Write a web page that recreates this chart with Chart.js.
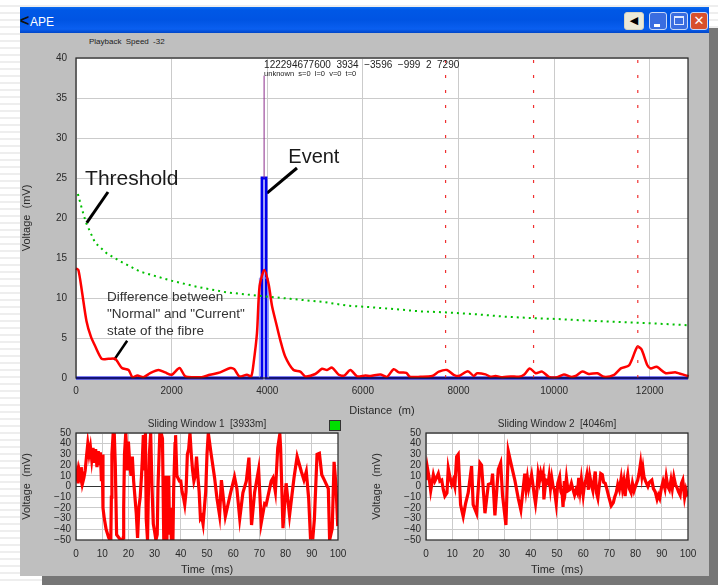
<!DOCTYPE html>
<html>
<head>
<meta charset="utf-8">
<title>APE</title>
<script src="https://cdn.jsdelivr.net/npm/chart.js@4"></script>
<style>
  html, body { margin: 0; padding: 0; }
  body {
    width: 718px; height: 585px; overflow: hidden; position: relative;
    background: repeating-linear-gradient(#fff 0 5px, #eeeeee 5px 7px);
    font-family: "Liberation Sans", sans-serif;
  }
  .abs { position: absolute; }
  canvas { position: absolute; }
  #shadow1 { left: 709px; top: 28px; width: 9px; height: 557px; background: #767676; }
  #shadow2 { left: 42px; top: 576px; width: 676px; height: 9px; background: #767676; }
  #win { left: 20px; top: 7px; width: 689px; height: 569px; background: #bfbfbf; }
  #bar {
    left: 20px; top: 7px; width: 689px; height: 26px;
    background: linear-gradient(#0a6af0 0, #0058e6 12%, #0054e3 50%, #0a5ff0 85%, #0046c8 100%);
  }
  #chev { left: 20px; top: 12px; font: bold 16px "Liberation Sans"; color: #111; }
  #ape { left: 30px; top: 15px; font: 12px "Liberation Sans"; color: #fff; }
  .btn { top: 12px; height: 18px; box-sizing: border-box; border-radius: 3px; border: 1px solid #c8d8f8; text-align: center; }
  #back { left: 624px; width: 20px; background: #ece9d8; border-color: #d8d4c0; color: #000; font: 11px/16px "DejaVu Sans"; }
  #min { left: 649px; width: 18px; background: #3a6de0; }
  #min i { position: absolute; left: 4px; bottom: 2px; width: 6px; height: 3px; background: #fff; }
  #max { left: 670px; width: 18px; background: #3a6de0; }
  #max i { position: absolute; left: 3px; top: 3px; width: 10px; height: 9px; border: 1px solid #dfe8ff; border-top-width: 2px; box-sizing: border-box; }
  #close { left: 690px; width: 18px; background: #d8502c; color: #fff; font: bold 13px/16px "DejaVu Sans"; }
  #speed { left: 89px; top: 37px; font: 8px "Liberation Sans"; color: #222; word-spacing: 2px; white-space: pre; }
  #led { left: 329px; top: 420px; width: 10px; height: 9px; background: #00e000; border: 1px solid #333; }
</style>
</head>
<body>
<div class="abs" id="shadow1"></div>
<div class="abs" id="shadow2"></div>
<div class="abs" id="win"></div>
<div class="abs" id="bar"></div>
<div class="abs" id="chev">&lt;</div>
<div class="abs" id="ape">APE</div>
<div class="abs btn" id="back">&#9664;</div>
<div class="abs btn" id="min"><i></i></div>
<div class="abs btn" id="max"><i></i></div>
<div class="abs btn" id="close">&#10005;</div>
<div class="abs" id="speed">Playback Speed -32</div>

<canvas id="main" width="689" height="385" style="left:20px;top:33px"></canvas>
<canvas id="win1" width="330" height="165" style="left:20px;top:412px"></canvas>
<canvas id="win2" width="330" height="165" style="left:370px;top:412px"></canvas>
<div class="abs" id="led"></div>

<script>
// trace of the fibre
const diffDist = [0,50,120,220,310,400,540,680,820,960,1100,1180,1285,1410,1550,1725,1865,2000,2165,2285,2490,2630,2800,3015,3225,3310,3415,3575,3665,3715,3785,3840,3940,4030,4100,4200,4270,4375,4550,4690,4795,5005,5145,5250,5355,5495,5610,5740,5880,6050,6157,6366,6505,6645,6750,6910,6980,7200,7450,7590,7760,7900,8005,8195,8320,8390,8565,8670,8775,8915,9090,9265,9370,9490,9615,9750,9890,10065,10205,10345,10450,10590,10730,10905,11045,11255,11395,11570,11740,11825,11950,12020,12145,12335,12545,12790,12800];
const diffVolt = [13.7,13.5,11,7.1,5.2,4,2.4,2.4,2.4,1.25,1,0.1,0.3,0.1,0.6,1,0.7,0.4,1.25,0.2,0.1,0.1,0.4,0.7,1.25,1.1,0.2,0.4,0.2,1.9,5.6,11.5,13.5,11.7,9,6.5,4.8,2.7,1,0.8,0.2,0.5,1.15,1,1.3,0.4,0.3,1,0.2,0.3,0.25,0.45,0.15,1.1,0.7,0.65,0.15,0.15,0.25,0.8,1,0.4,0.25,0.85,0.25,0.6,0.45,0.15,0.25,0.1,0.2,0.15,0.4,1.2,0.6,0.8,0.15,0.1,0.45,0.15,0.25,0.8,0.5,0.6,0.15,0.4,1.2,1.6,3.9,3.6,1.6,1.2,1.4,0.6,0.7,0.25,0.4];

const thresholdDist = [40,130,210,400,640,920,1340,1970,2530,3155,3785,4480,5180,5670,6160,6680,7200,7750,8390,8950,9510,10065,10625,11180,11740,12160,12790];
const thresholdVolt = [23,21,19.4,16.9,15.6,14.6,13.3,12.2,11.4,10.7,10.3,9.9,9.5,9.05,8.85,8.6,8.33,8.2,7.96,7.67,7.5,7.37,7.2,7.04,6.9,6.8,6.6];

const eventDist = [0,3890,3890,3975,3975,12800];
const eventVolt = [0,0,25,25,0,0];
const haloDist = [3835,3835,4020,4020];
const haloVolt = [0,12.5,12.5,0];
const markerDist = [3934,3934];
const markerVolt = [25,37.8];
const zoneDist = [7730,9570,11750];

const window1Time = [0,0.4,0.8,1.2,1.8,2,2.5,3,3.5,4,4.5,5,5.5,6,6.5,7,7.5,8,8.5,9,9.3,9.7,10,10.3,10.8,11.5,12.5,13,13.3,13.5,13.7,14.2,14.6,15,15.5,17,17.8,18,18.2,18.5,19,19.3,19.6,20,20.5,21,21.5,22,22.5,23,23.5,24,24.5,25,25.3,25.7,26,26.5,26.8,27.3,27.6,28,28.5,29,29.5,30,30.5,31,31.3,32,32.5,33,33.5,33.9,34.3,34.7,35,35.4,35.7,36,36.4,36.8,37,37.3,37.8,38,38.5,39.5,40,40.5,41,41.5,42,42.5,43,43.5,44,44.5,45,45.5,46,46.5,47,47.5,48,48.5,49,49.5,50,50.5,51.6,52.9,53.8,54.8,55.5,57,59,60.5,61.4,62.5,63.7,65,66,67,68.2,69.7,70.7,72,72.6,74.5,75.2,76.1,77,77.8,78.1,79,80.2,81.5,83.2,84.4,86,87,87.9,88.8,89.5,90.4,91,92,92.9,93.8,94.8,96.3,96.8,97.8,98.5,99.2,99.9];
const window1Volt = [5,12,3,15,8,18,3,8,15,28,40,30,37,25,36,22,35,18,33,20,32,5,30,-20,-30,-40,-48,-50,-48,-10,30,50,50,20,-45,-50,-50,-48,-20,30,50,35,15,42,22,10,28,5,-10,-25,-48,-20,-10,10,25,48,15,50,-30,-50,-10,30,50,0,-35,-42,-50,-45,0,50,50,45,-50,-30,10,-50,0,10,-45,-20,-50,-30,-50,0,40,48,10,5,5,-5,-10,-17,-5,30,35,50,30,15,5,10,28,10,-5,-30,-28,-35,-20,-5,30,50,30,8,-11,-27,6,-28,-6,9,-2,-30,-6,5,27,-36,-5,16,-34,-16,-17,5,8,-5,36,49,36,-39,3,-27,8,28,14,6,14,-11,-48,-48,-30,30,31,11,6,-2,-50,-39,23,2,-37,-12];

const window2Time = [0,0.5,1.2,1.8,2.8,3.4,4,4.7,5.3,6,6.6,7.2,8,8.5,9.2,9.8,10.4,11,11.7,12.3,13.2,14.2,15.1,16.1,17.4,18,19.3,20.6,21.2,22.5,23.8,25,25.4,26.3,27.6,28.5,29.2,30.5,31.4,32.3,33.9,35.2,36.2,37.7,38.2,38.7,39.2,39.8,40.3,40.8,41.3,41.8,42.3,42.8,43.3,43.8,44.3,44.7,45,45.5,46,46.6,47,47.5,48,48.5,49,49.7,50.3,51,51.5,52,52.3,52.8,53.2,53.6,54.2,54.8,55.5,56,56.7,57.3,57.8,58.3,58.8,59.3,60,60.5,61,61.4,62,62.5,63.1,63.7,64.2,64.6,65.1,65.6,66.2,66.7,67.3,67.8,68.4,69,69.8,70.7,71.5,72,72.6,73.2,73.8,74.5,75,75.5,76,76.5,77,77.6,78.3,78.8,79.4,80.2,80.8,81.3,81.9,82.4,82.8,83.2,83.8,84.7,85.3,86.2,86.8,87.5,88.2,88.7,89.2,89.8,90.5,91.2,91.7,92.3,92.9,93.5,94,94.6,95.2,95.8,96.4,97,97.5,98,98.7,99.2,99.7,100];
const window2Volt = [6,18,8,-4,11,5,8,12,5,6,-3,-9,-6,17,8,2,6,0,28,30,-17,-28,-16,-6,19,-17,-25,22,20,-25,2,3,12,-27,16,22,-8,-36,33,23,6,-11,-22,12,-2,8,-2,5,11,2,-8,-16,-5,12,5,13,8,12,-12,0,5,3,10,-2,8,0,-3,-16,3,9,-5,-8,-19,5,-2,8,-4,-3,3,-2,-8,-3,-6,8,-4,7,-8,2,6,11,-3,10,2,-4,7,14,-6,-11,2,12,11,4,3,-2,-10,-18,-15,-10,-6,2,-3,8,-2,5,-9,4,11,-2,-6,3,-4,2,6,12,22,10,17,9,5,0,4,6,-2,-5,-12,-8,-11,-2,5,-2,9,0,-3,6,-2,9,2,-1,-5,-8,3,6,-10,-3,-8,-9];

// main panel ticks
const mainDistTicks = [0,2000,4000,6000,8000,10000,12000];
const mainVoltTicks = [0,5,10,15,20,25,30,35,40];
const windowTicks = [0,10,20,30,40,50,60,70,80,90,100];
const windowVoltTicks = [-50,-40,-30,-20,-10,0,10,20,30,40,50];

// callout sticks, in axis units
const thresholdStickDist = [670,224];
const thresholdStickVolt = [23.25,19.4];
const eventStickDist = [4622,3994];
const eventStickVolt = [26.25,23.1];
const diffStickDist = [1070,796];
const diffStickVolt = [4.66,2.25];

const pairs = (xs, ys) => xs.map((x, i) => ({ x, y: ys[i] }));

const tickFont = { family: "Liberation Sans", size: 10 };
const gridGray = "#cbcbcb";
const textGray = "#2a2a2a";

const plotFrame = {
  id: "plotFrame",
  beforeDraw(chart) {
    const { ctx, chartArea: a } = chart;
    ctx.save();
    ctx.fillStyle = "#fff";
    ctx.fillRect(a.left, a.top, a.right - a.left, a.bottom - a.top);
    ctx.restore();
  },
  afterDatasetsDraw(chart) {
    const { ctx, chartArea: a } = chart;
    ctx.save();
    ctx.strokeStyle = "#222";
    ctx.lineWidth = 1.2;
    ctx.strokeRect(a.left, a.top, a.right - a.left, a.bottom - a.top);
    ctx.restore();
  },
};

// text callouts on the main panel, anchored on the axes
const callouts = {
  id: "callouts",
  afterDraw(chart) {
    const { ctx, scales } = chart;
    const put = (text, m, v, font, color) => {
      ctx.font = font;
      ctx.fillStyle = color;
      ctx.fillText(text, scales.x.getPixelForValue(m), scales.y.getPixelForValue(v));
    };
    ctx.save();
    ctx.textBaseline = "alphabetic";
    put("Threshold", 190, 24.1, '21px "Liberation Sans"', "#1a1a1a");
    put("Event", 4440, 26.9, '20px "Liberation Sans"', "#1a1a1a");
    put("Difference between", 650, 9.6, '13.5px "Liberation Sans"', "#333");
    put("\"Normal\" and \"Current\"", 650, 7.5, '13.5px "Liberation Sans"', "#333");
    put("state of the fibre", 650, 5.4, '13.5px "Liberation Sans"', "#333");
    put("122294677600  3934  \u22123596  \u2212999  2  7290", 3934, 38.8, '10px "Liberation Sans"', "#222");
    put("unknown  s=0  l=0  v=0  t=0", 3934, 37.8, '7.5px "Liberation Sans"', "#222");
    ctx.restore();
  },
};

const zoneLines = zoneDist.map((d) => ({
  data: pairs([d, d], [0, 40]),
  borderColor: "#f03030",
  borderWidth: 1.2,
  borderDash: [3, 12],
  pointRadius: 0,
}));

new Chart(document.getElementById("main"), {
  type: "line",
  data: {
    datasets: [
      ...zoneLines,
      { data: pairs(thresholdDist, thresholdVolt), borderColor: "#00c000", borderWidth: 2, borderDash: [2, 4], pointRadius: 0 },
      { data: pairs(diffDist, diffVolt), borderColor: "#ff0000", borderWidth: 2.5, pointRadius: 0, tension: 0.25, clip: false },
      { data: pairs(haloDist, haloVolt), borderColor: "#8f9cff", borderWidth: 1, pointRadius: 0 },
      { data: pairs(markerDist, markerVolt), borderColor: "#8a2a8a", borderWidth: 1, pointRadius: 0 },
      { data: pairs(eventDist, eventVolt), borderColor: "#0000ee", borderWidth: 2.8, pointRadius: 0, clip: false },
      { data: pairs(thresholdStickDist, thresholdStickVolt), borderColor: "#000", borderWidth: 3, pointRadius: 0 },
      { data: pairs(eventStickDist, eventStickVolt), borderColor: "#000", borderWidth: 3, pointRadius: 0 },
      { data: pairs(diffStickDist, diffStickVolt), borderColor: "#000", borderWidth: 2.5, pointRadius: 0 },
    ],
  },
  options: {
    responsive: false,
    animation: false,
    layout: { padding: { top: 25, right: 21 } },
    plugins: { legend: { display: false }, tooltip: { enabled: false }, title: { display: false } },
    scales: {
      x: {
        type: "linear",
        min: 0,
        max: 12800,
        afterFit: (s) => { s.height = 40; },
        afterBuildTicks: (s) => { s.ticks = mainDistTicks.map((value) => ({ value })); },
        grid: { color: gridGray, drawTicks: false },
        border: { display: false },
        ticks: { font: tickFont, color: textGray, padding: 7, maxRotation: 0, autoSkip: false, callback: (v) => String(v) },
        title: { display: true, text: "Distance  (m)", font: { family: "Liberation Sans", size: 11 }, color: textGray, padding: { top: 6, bottom: 0 } },
      },
      y: {
        min: 0,
        max: 40,
        afterFit: (s) => { s.width = 56; },
        afterBuildTicks: (s) => { s.ticks = mainVoltTicks.map((value) => ({ value })); },
        grid: { color: gridGray, drawTicks: false },
        border: { display: false },
        ticks: { font: tickFont, color: textGray, padding: 9 },
        title: { display: true, text: "Voltage  (mV)", font: { family: "Liberation Sans", size: 11 }, color: textGray, padding: { top: 0, bottom: 0 } },
      },
    },
  },
  plugins: [plotFrame, callouts],
});

function slidingWindow(id, titleText, times, volts) {
  return new Chart(document.getElementById(id), {
    type: "line",
    data: {
      datasets: [{ data: pairs(times, volts), borderColor: "#ff0000", borderWidth: 3.2, pointRadius: 0 }],
    },
    options: {
      responsive: false,
      animation: false,
      layout: { padding: { right: 12 } },
      plugins: {
        legend: { display: false },
        tooltip: { enabled: false },
        title: {
          display: true,
          text: titleText,
          fullSize: false,
          font: { family: "Liberation Sans", size: 10, weight: "normal" },
          color: textGray,
          padding: { top: 6, bottom: 3 },
        },
      },
      scales: {
        x: {
          type: "linear",
          min: 0,
          max: 100,
          afterFit: (s) => { s.height = 37; s.paddingRight = 0; },
          afterBuildTicks: (s) => { s.ticks = windowTicks.map((value) => ({ value })); },
          grid: { color: gridGray, drawTicks: false },
          border: { display: false },
          ticks: { font: tickFont, color: textGray, padding: 8, maxRotation: 0, autoSkip: false },
          title: { display: true, text: "Time  (ms)", font: { family: "Liberation Sans", size: 11 }, color: textGray, padding: { top: 3, bottom: 0 } },
        },
        y: {
          min: -50,
          max: 50,
          afterFit: (s) => { s.width = 56; },
          afterBuildTicks: (s) => { s.ticks = windowVoltTicks.map((value) => ({ value })); },
          grid: { color: (c) => (c.tick.value === 0 ? "#333" : gridGray), drawTicks: false },
          border: { display: false },
          ticks: { font: tickFont, color: textGray, padding: 5, autoSkip: false, callback: (v) => String(v).replace("-", "\u2212") },
          title: { display: true, text: "Voltage  (mV)", font: { family: "Liberation Sans", size: 11 }, color: textGray, padding: { top: 0, bottom: 0 } },
        },
      },
    },
    plugins: [plotFrame],
  });
}

slidingWindow("win1", "Sliding Window 1  [3933m]", window1Time, window1Volt);
slidingWindow("win2", "Sliding Window 2  [4046m]", window2Time, window2Volt);
</script>
</body>
</html>
